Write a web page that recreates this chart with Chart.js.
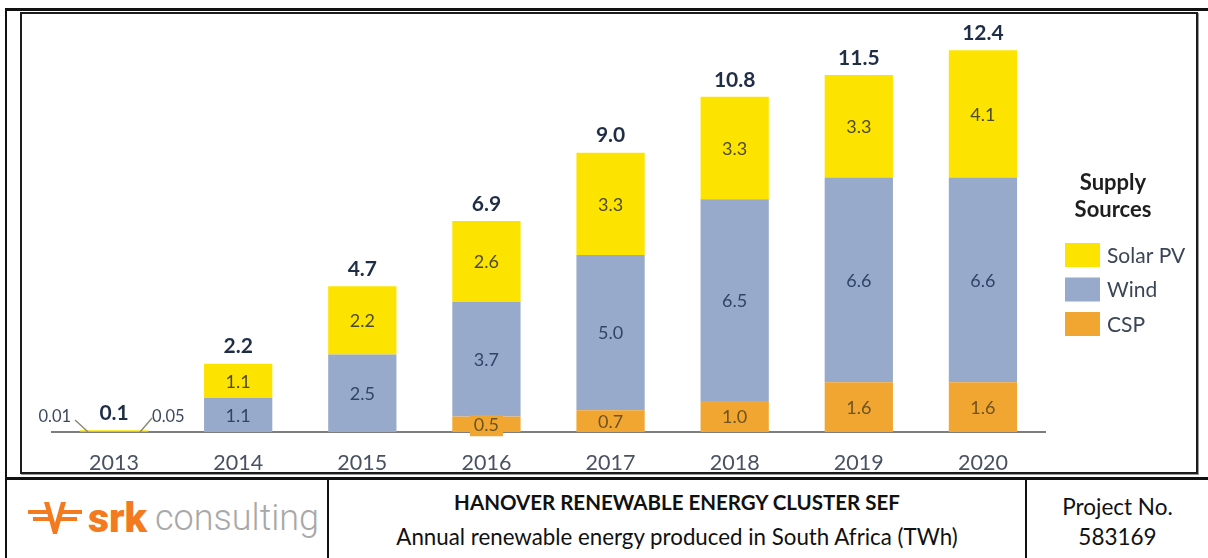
<!DOCTYPE html>
<html>
<head>
<meta charset="utf-8">
<script src="https://cdn.jsdelivr.net/npm/chart.js@4.4.1/dist/chart.umd.min.js"></script>
<style>
  html, body { margin: 0; padding: 0; background: #fff; }
  #page { position: relative; width: 1208px; height: 558px; overflow: hidden; font-family: Lato, sans-serif; }
  .line { position: absolute; background: #111; }
  #frame { position: absolute; left: 20px; top: 12px; width: 1178px; height: 462px; box-sizing: border-box;
           border: 2px solid #1c1c1c; box-shadow: 1px 1px 0 #9a9a9a; }
  #chartCanvas { position: absolute; left: 21px; top: 13px; }
  .cell { position: absolute; top: 480px; height: 78px; text-align: center; color: #111; }
  #logo { position: absolute; left: 28px; top: 497px; height: 42px; display: flex; align-items: center; }
  #logo .srk { font-family: Roboto, sans-serif; font-weight: 900; color: #f47a20; font-size: 41px; margin-left: 6px; letter-spacing: 0px; }
  #logo .con { font-family: Roboto, sans-serif; color: #a8a8a8; font-size: 36px; margin-left: 8px; font-weight: 300; }
</style>
</head>
<body>
<div id="page">
  <div class="line" style="left:5px; top:8px; width:1203px; height:3px;"></div>
  <div class="line" style="left:5px; top:8px; width:2px; height:550px;"></div>
  <div id="frame"></div>
  <canvas id="chartCanvas" width="1176" height="460"></canvas>
  <div class="line" style="left:5px; top:477px; width:1203px; height:3px;"></div>
  <div class="line" style="left:327px; top:477px; width:2px; height:81px;"></div>
  <div class="line" style="left:1025px; top:477px; width:2px; height:81px;"></div>

  <div id="logo">
    <svg width="54" height="34" viewBox="0 0 54 34">
      <g fill="#f47a20">
        <rect x="0" y="9" width="22" height="4"/>
        <rect x="5" y="16" width="17" height="4"/>
        <rect x="32" y="9" width="22" height="4"/>
        <rect x="32" y="16" width="17" height="4"/>
        <polygon points="16,1 21,1 27,22 33,1 38,1 29,33 25,33"/>
      </g>
    </svg>
    <span class="srk">srk</span><span class="con">consulting</span>
  </div>

  <div class="cell" style="left:329px; width:696px;">
    <div style="font-weight:bold; font-size:20.5px; margin-top:10px;">HANOVER RENEWABLE ENERGY CLUSTER SEF</div>
    <div style="font-size:22.3px; margin-top:9px;">Annual renewable energy produced in South Africa (TWh)</div>
  </div>
  <div class="cell" style="left:1027px; width:181px; font-size:22.5px; line-height:30px;">
    <div style="margin-top:12px;">Project No.</div>
    <div>583169</div>
  </div>
</div>

<script>
// Data (TWh)
const years = ['2013', '2014', '2015', '2016', '2017', '2018', '2019', '2020'];
const cspValues = [null, null, null, 0.5, 0.7, 1.0, 1.6, 1.6];
const windValues = [0.01, 1.1, 2.5, 3.7, 5.0, 6.5, 6.6, 6.6];
const solarValues = [0.05, 1.1, 2.2, 2.6, 3.3, 3.3, 3.3, 4.1];
const totalLabels = ['0.1', '2.2', '4.7', '6.9', '9.0', '10.8', '11.5', '12.4'];

// Colors
const solarColor = '#fde400';
const windColor = '#98aacb';
const cspColor = '#f2a632';
const axisColor = '#7d7d7d';
const tickColor = '#4a5262';
const totalColor = '#1f2e46';

const segmentTextColors = ['#6c5322', '#2f4468', '#4d4a2a']; // csp, wind, solar

// segment values, totals, 2013 call-outs, legend
const labelPlugin = {
  id: 'barLabels',
  afterDatasetsDraw(chart) {
    const ctx = chart.ctx;
    const yScale = chart.scales.y;
    const xScale = chart.scales.x;
    ctx.save();
    ctx.textAlign = 'center';
    ctx.textBaseline = 'middle';

    chart.data.datasets.forEach((ds, di) => {
      const meta = chart.getDatasetMeta(di);
      meta.data.forEach((bar, i) => {
        const v = ds.data[i];
        if (v == null || v < 0.1) return;
        const top = bar.y, bottom = bar.base;
        const cy = (top + bottom) / 2 + 1;
        const text = v.toFixed(1);
        ctx.font = '18px Lato, sans-serif';
        if (bottom - top < 18) {
          const w = ctx.measureText(text).width + 8;
          ctx.fillStyle = ds.backgroundColor;
          ctx.fillRect(bar.x - w / 2, cy - 10, w, 21);
        }
        ctx.fillStyle = segmentTextColors[di];
        ctx.fillText(text, bar.x, cy);
      });
    });

    // totals above each stack
    const lastMeta = chart.getDatasetMeta(chart.data.datasets.length - 1);
    ctx.font = 'bold 21px Lato, sans-serif';
    ctx.fillStyle = totalColor;
    lastMeta.data.forEach((bar, i) => {
      ctx.fillText(totalLabels[i], bar.x, bar.y - 17);
    });

    // call-outs for the tiny 2013 values
    const cx = xScale.getPixelForValue(0);
    const base = yScale.getPixelForValue(0);
    ctx.strokeStyle = '#8c8a78';
    ctx.lineWidth = 1.5;
    ctx.beginPath();
    ctx.moveTo(cx - 26, base);
    ctx.lineTo(cx - 39, base - 12);
    ctx.moveTo(cx + 26, base);
    ctx.lineTo(cx + 38, base - 14);
    ctx.stroke();
    ctx.font = '16.5px Lato, sans-serif';
    ctx.fillStyle = '#3d4a5e';
    ctx.textAlign = 'right';
    ctx.fillText(windValues[0].toFixed(2), cx - 43, base - 15);
    ctx.textAlign = 'left';
    ctx.fillText(solarValues[0].toFixed(2), cx + 38, base - 15);

    // legend
    const lx = chart.chartArea.right + 20;
    ctx.textAlign = 'center';
    ctx.fillStyle = '#1e1e1e';
    ctx.font = 'bold 22px Lato, sans-serif';
    ctx.fillText('Supply', lx + 48, 170);
    ctx.fillText('Sources', lx + 48, 197);
    const items = [
      ['Solar PV', solarColor],
      ['Wind', windColor],
      ['CSP', cspColor]
    ];
    ctx.textAlign = 'left';
    ctx.font = '21px Lato, sans-serif';
    items.forEach((it, k) => {
      const y = 230 + k * 34.5;
      ctx.fillStyle = it[1];
      ctx.fillRect(lx, y, 35, 24);
      ctx.fillStyle = '#3a4556';
      ctx.fillText(it[0], lx + 42, y + 13);
    });
    ctx.restore();
  }
};

const chartCanvas = document.getElementById('chartCanvas');
const chartVar = new Chart(chartCanvas, {
  type: 'bar',
  data: {
    labels: years,
    datasets: [
      { label: 'CSP', data: cspValues, backgroundColor: cspColor },
      { label: 'Wind', data: windValues, backgroundColor: windColor },
      { label: 'Solar PV', data: solarValues, backgroundColor: solarColor }
    ]
  },
  options: {
    responsive: false,
    animation: false,
    layout: {
      padding: { left: 31, right: 152, top: 0, bottom: 0 }
    },
    datasets: {
      bar: {
        barPercentage: 0.55,
        categoryPercentage: 1,
        borderWidth: 0
      }
    },
    plugins: {
      legend: { display: false },
      tooltip: { enabled: false }
    },
    scales: {
      x: {
        stacked: true,
        afterFit(scale) { scale.height = 41; },
        grid: { display: false, drawTicks: false },
        border: { display: true, color: axisColor, width: 2 },
        ticks: {
          color: tickColor,
          padding: 18,
          font: { family: 'Lato', size: 21.5 }
        }
      },
      y: {
        stacked: true,
        display: false,
        min: 0,
        max: 13.5
      }
    }
  },
  plugins: [labelPlugin]
});
</script>
</body>
</html>
